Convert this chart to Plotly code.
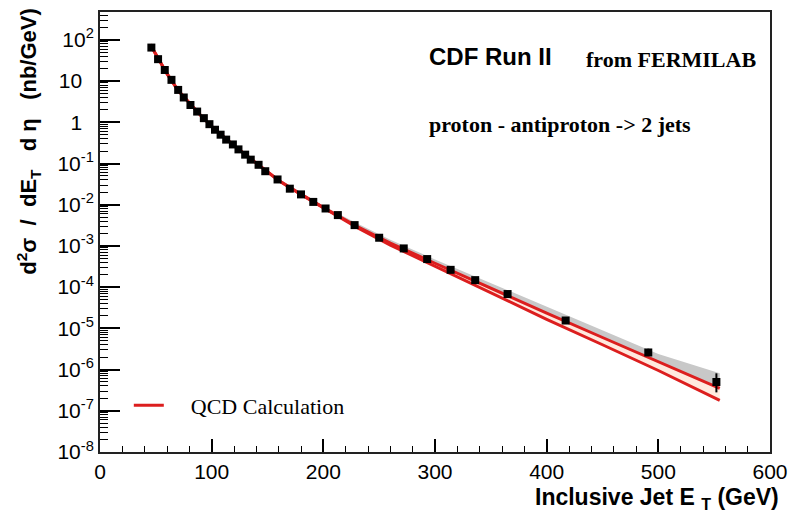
import plotly.graph_objects as go

# ---- data ----
jet_et = [46, 52, 58, 64, 70, 75, 81, 87, 93, 98, 103, 108, 113, 119, 124, 130, 135, 142, 148,
          159, 170, 180, 191, 202, 213, 228, 250, 272, 293, 314, 336, 365, 417, 491, 552]
xsec = [65, 34, 18.6, 10.7, 6.1, 4.0, 2.63, 1.82, 1.26, 0.90, 0.66, 0.50, 0.38, 0.29, 0.22,
        0.164, 0.124, 0.093, 0.065, 0.041, 0.0245, 0.0178, 0.0117, 0.0081, 0.0056, 0.0032,
        0.00158, 8.7e-4, 4.8e-4, 2.63e-4, 1.48e-4, 6.8e-5, 1.55e-5, 2.6e-6, 5.0e-7]
err_up = [0] * 32 + [2e-6, 0.6e-6, 3.1e-7]
err_dn = [0] * 32 + [2e-6, 0.4e-6, 2.2e-7]

qcd_et = [45, 50, 60, 70, 80, 90, 100, 120, 140, 160, 180, 200, 230, 260, 300, 350, 400, 450, 500, 555]
qcd_hi = [77.6, 44.7, 15.1, 5.89, 2.88, 1.48, 0.79, 0.272, 0.102, 0.0389, 0.0178, 0.0085,
          0.0030, 0.00117, 3.8e-4, 9.3e-5, 2.34e-5, 6.0e-6, 1.58e-6, 3.5e-7]
qcd_lo = [77.6, 44.7, 15.1, 5.89, 2.88, 1.48, 0.79, 0.272, 0.102, 0.0389, 0.0178, 0.0085,
          0.0028, 0.00105, 3.2e-4, 7.2e-5, 1.66e-5, 4.0e-6, 9.5e-7, 1.78e-7]

band_et = [150, 200, 230, 260, 300, 350, 400, 450, 500, 555]
band_top = [0.063, 0.0095, 0.00355, 0.00141, 4.7e-4, 1.26e-4, 3.3e-5, 8.9e-6, 2.4e-6, 8.1e-7]
band_bot = [0.063, 0.0085, 0.0030, 0.00117, 3.8e-4, 9.3e-5, 2.34e-5, 6.0e-6, 1.58e-6, 3.5e-7]

y_tickvals = [1e-8, 1e-7, 1e-6, 1e-5, 1e-4, 1e-3, 1e-2, 1e-1, 1, 10, 100]
y_ticktext = ["10<sup>-8</sup>", "10<sup>-7</sup>", "10<sup>-6</sup>", "10<sup>-5</sup>",
              "10<sup>-4</sup>", "10<sup>-3</sup>", "10<sup>-2</sup>", "10<sup>-1</sup>",
              "1\u00a0\u00a0", "10\u00a0\u00a0", "10<sup>2</sup>"]
x_tickvals = [0, 100, 200, 300, 400, 500, 600]

y_minor = [m * 10.0 ** e for e in range(-8, 3) for m in range(2, 10)]
x_minor = [v for v in range(20, 600, 20) if v % 100 != 0]

RED = "#dc1e1e"
SANS = "Liberation Sans, Arial, sans-serif"
SERIF = "Liberation Serif, Times New Roman, serif"
NB = "\u00a0"

fig = go.Figure()

# systematic band (gray)
fig.add_trace(go.Scatter(x=band_et + band_et[::-1], y=band_top + band_bot[::-1],
                         fill="toself", fillcolor="#c8c8c8", line=dict(width=0),
                         mode="lines", showlegend=False, hoverinfo="skip"))
# QCD band (light)
fig.add_trace(go.Scatter(x=qcd_et + qcd_et[::-1], y=qcd_hi + qcd_lo[::-1],
                         fill="toself", fillcolor="#ffe9de", line=dict(width=0),
                         mode="lines", showlegend=False, hoverinfo="skip"))
fig.add_trace(go.Scatter(x=qcd_et, y=qcd_lo, mode="lines",
                         line=dict(color=RED, width=3), showlegend=False))
fig.add_trace(go.Scatter(x=qcd_et, y=qcd_hi, mode="lines",
                         line=dict(color=RED, width=3),
                         name=NB * 4 + "QCD Calculation", showlegend=True))
fig.add_trace(go.Scatter(x=jet_et, y=xsec, mode="markers",
                         marker=dict(symbol="square", size=8, color="black"),
                         error_y=dict(type="data", symmetric=False, array=err_up,
                                      arrayminus=err_dn, color="black", thickness=2, width=0),
                         showlegend=False))

fig.update_layout(
    width=798, height=517,
    margin=dict(l=100, r=21, t=10, b=65),
    paper_bgcolor="white", plot_bgcolor="white",
    font=dict(family=SANS, color="black", size=21),
    legend=dict(x=0.043, y=0.106, xanchor="left", yanchor="middle",
                bgcolor="rgba(0,0,0,0)", font=dict(family=SERIF, size=22, color="black")),
    xaxis=dict(range=[0, 600], tickmode="array", tickvals=x_tickvals,
               ticks="inside", ticklen=13, tickwidth=1.5, tickcolor="black",
               minor=dict(tickmode="array", tickvals=x_minor, ticks="inside", ticklen=6,
                          tickwidth=1, tickcolor="black", showgrid=False),
               showline=True, linecolor="#222", linewidth=2, mirror=True,
               showgrid=False, zeroline=False,
               tickfont=dict(family=SANS, size=21, color="black")),
    yaxis=dict(type="log", range=[-8, 2.676], tickmode="array", tickvals=y_tickvals,
               ticktext=y_ticktext, ticks="inside", ticklen=20, tickwidth=1.5,
               tickcolor="black",
               minor=dict(tickmode="array", tickvals=y_minor, ticks="inside", ticklen=8,
                          tickwidth=1, tickcolor="black", showgrid=False),
               showline=True, linecolor="#222", linewidth=2, mirror=True,
               showgrid=False, zeroline=False,
               tickfont=dict(family=SANS, size=21, color="black")),
)

ytitle = ("<b>d<sup>2</sup>σ" + NB * 2 + "/" + NB * 2 + "dE<sub>T</sub>" + NB * 3 +
          "d" + NB + "η" + NB * 3 + "(nb/GeV)</b>")
fig.add_annotation(text=ytitle,
                   xref="paper", yref="paper", x=-0.107, y=0.706,
                   xanchor="center", yanchor="middle", textangle=-90, showarrow=False,
                   font=dict(family=SANS, size=22, color="black"))
fig.add_annotation(text="<b>Inclusive Jet E" + NB + "<sub>T</sub>" + NB + "(GeV)</b>",
                   xref="paper", yref="paper", x=1.016, y=-0.068,
                   xanchor="right", yanchor="top", showarrow=False,
                   font=dict(family=SANS, size=23, color="black"))
fig.add_annotation(text="<b>CDF Run II</b>", xref="paper", yref="paper",
                   x=0.4874, y=0.899, xanchor="left", yanchor="middle", showarrow=False,
                   font=dict(family=SANS, size=24, color="black"))
fig.add_annotation(text="<b>from FERMILAB</b>", xref="paper", yref="paper",
                   x=0.7223, y=0.893, xanchor="left", yanchor="middle", showarrow=False,
                   font=dict(family=SERIF, size=22, color="black"))
fig.add_annotation(text="<b>proton - antiproton -> 2 jets</b>", xref="paper", yref="paper",
                   x=0.4874, y=0.745, xanchor="left", yanchor="middle", showarrow=False,
                   font=dict(family=SERIF, size=22, color="black"))

fig.write_html("out.html")
